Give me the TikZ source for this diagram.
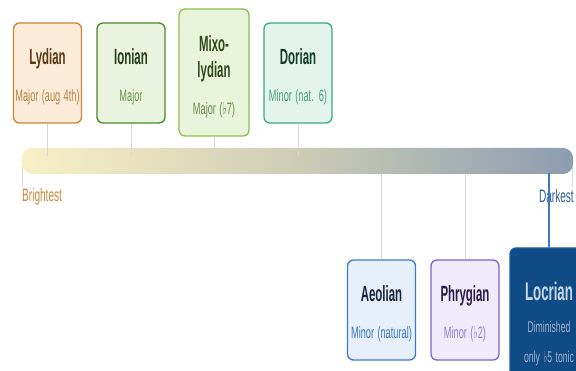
\documentclass[tikz,border=0pt]{standalone}
\usepackage{fontspec}
\usetikzlibrary{calc}
\newfontfamily\modefont[FakeStretch=0.56]{Liberation Sans}
\newfontfamily\titlefont[FakeStretch=0.52]{Liberation Sans}
\newfontfamily\flatfont[FakeStretch=0.56]{DejaVu Sans}
\newcommand{\flatsign}{{\flatfont ♭}}

% box colours: edge, fill, title, subtitle
\definecolor{lydianedge}{HTML}{C98530}
\definecolor{lydianfill}{HTML}{FCEBD8}
\definecolor{lydiantitle}{HTML}{5A3814}
\definecolor{lydiansub}{HTML}{B0854A}
\definecolor{ionianedge}{HTML}{4A8A28}
\definecolor{ionianfill}{HTML}{E9F3DE}
\definecolor{ioniantitle}{HTML}{24401A}
\definecolor{ioniansub}{HTML}{6A9B4A}
\definecolor{mixoedge}{HTML}{8DC050}
\definecolor{mixofill}{HTML}{EAF4DB}
\definecolor{mixotitle}{HTML}{2E4A1C}
\definecolor{mixosub}{HTML}{6A8A50}
\definecolor{dorianedge}{HTML}{3AAA85}
\definecolor{dorianfill}{HTML}{E2F4EC}
\definecolor{doriantitle}{HTML}{133A2E}
\definecolor{doriansub}{HTML}{4E9C86}
\definecolor{aeolianedge}{HTML}{3A7BC8}
\definecolor{aeolianfill}{HTML}{E6EFFA}
\definecolor{aeoliantitle}{HTML}{14263E}
\definecolor{aeoliansub}{HTML}{3A78C0}
\definecolor{phrygianedge}{HTML}{7B62D2}
\definecolor{phrygianfill}{HTML}{EFEBFB}
\definecolor{phrygiantitle}{HTML}{2A1A48}
\definecolor{phrygiansub}{HTML}{8F7FD5}
\definecolor{locrianedge}{HTML}{1B5C9E}
\definecolor{locrianfill}{HTML}{0F4C86}
\definecolor{locriantitle}{HTML}{C9D6E6}
\definecolor{locriansub}{HTML}{9DB1CA}
% scale bar and links
\definecolor{barleft}{HTML}{FAF0C6}
\definecolor{barmid}{HTML}{CDCDB6}
\definecolor{barright}{HTML}{8C9CB0}
\definecolor{linkgray}{HTML}{D8D8D8}
\definecolor{brightcol}{HTML}{C8873A}
\definecolor{darkcol}{HTML}{2E5E8E}

\tikzset{
  modebox/.style={rounded corners=6pt, line width=1.3pt, minimum width=68pt,
    minimum height=100pt, text width=66pt, inner xsep=1pt, inner ysep=0pt,
    align=center, font=\modefont},
  link/.style={draw=linkgray, line width=1pt},
  locrianlink/.style={draw=aeolianedge, line width=1.1pt},
  endlabel/.style={inner sep=0pt, font=\modefont\fontsize{18}{20}\selectfont},
}
\newcommand{\modetext}[4]{\parindent=0pt%
  {\color{#3}\titlefont\fontsize{22}{26}\selectfont\bfseries\rule{0pt}{24pt}#1\par}\vspace{12pt}%
  {\color{#4}\fontsize{16.5}{25}\selectfont #2\par}}

\begin{document}
\begin{tikzpicture}[x=1pt, y=-1pt]
  \useasboundingbox (0,0) rectangle (576,371);
  \clip (0,0) rectangle (576,371);

  % end ticks, behind the bar
  \node[endlabel, text=brightcol, anchor=base west] (brightest) at (22,202) {Brightest};
  \node[endlabel, text=darkcol, anchor=base east] (darkest) at (574,203) {Darkest};
  \coordinate (lefttick) at (22.7,161);
  \coordinate (righttick) at (572,161);
  \draw[link] (lefttick) -- ($(brightest.north west)+(0.7,-3)$);
  \draw[link] (righttick) -- ($(darkest.north east)+(-2,-3)$);

  % the scale from bright to dark
  \node[rounded corners=10pt, minimum width=551pt, minimum height=26pt, inner sep=0pt,
    left color=barleft, right color=barright, middle color=barmid] (scale) at (297.5,161) {};

  % modes above the scale
  \node[modebox, draw=lydianedge, fill=lydianfill] (lydian) at (47.5,73)
    {\modetext{Lydian}{Major (aug 4th)}{lydiantitle}{lydiansub}};
  \node[modebox, draw=ionianedge, fill=ionianfill] (ionian) at (131,73)
    {\modetext{Ionian}{Major}{ioniantitle}{ioniansub}};
  \node[modebox, draw=mixoedge, fill=mixofill, minimum width=70pt, minimum height=127pt] (mixolydian) at (214,72.5)
    {\modetext{Mixo-\par lydian}{Major (\flatsign7)}{mixotitle}{mixosub}};
  \node[modebox, draw=dorianedge, fill=dorianfill] (dorian) at (298,73)
    {\modetext{Dorian}{Minor (nat. 6)}{doriantitle}{doriansub}};

  % modes below the scale
  \node[modebox, draw=aeolianedge, fill=aeolianfill] (aeolian) at (381.5,310)
    {\modetext{Aeolian}{Minor (natural)}{aeoliantitle}{aeoliansub}};
  \node[modebox, draw=phrygianedge, fill=phrygianfill] (phrygian) at (465,310)
    {\modetext{Phrygian}{Minor (\flatsign2)}{phrygiantitle}{phrygiansub}};
  \node[modebox, draw=locrianedge, fill=locrianfill, minimum width=78pt, minimum height=152pt,
    text width=76pt] (locrian) at (549,324)
    {\parindent=0pt{\color{locriantitle}\titlefont\fontsize{25.5}{30}\selectfont\bfseries Locrian\par}\vspace{2pt}%
     {\color{locriansub}\fontsize{15.5}{30}\selectfont Diminished\par only \flatsign5 tonic\par}};

  % links to the scale
  \foreach \m in {lydian, ionian, mixolydian, dorian}
    \draw[link] (\m.south) -- ($(\m.south |- scale.center)+(0,-5)$);
  \foreach \m in {aeolian, phrygian}
    \draw[link] (\m.north) -- (\m.north |- scale.south);
  \draw[locrianlink] (locrian.north) -- ($(locrian.north |- scale.south)+(0,-1)$);
\end{tikzpicture}
\end{document}
